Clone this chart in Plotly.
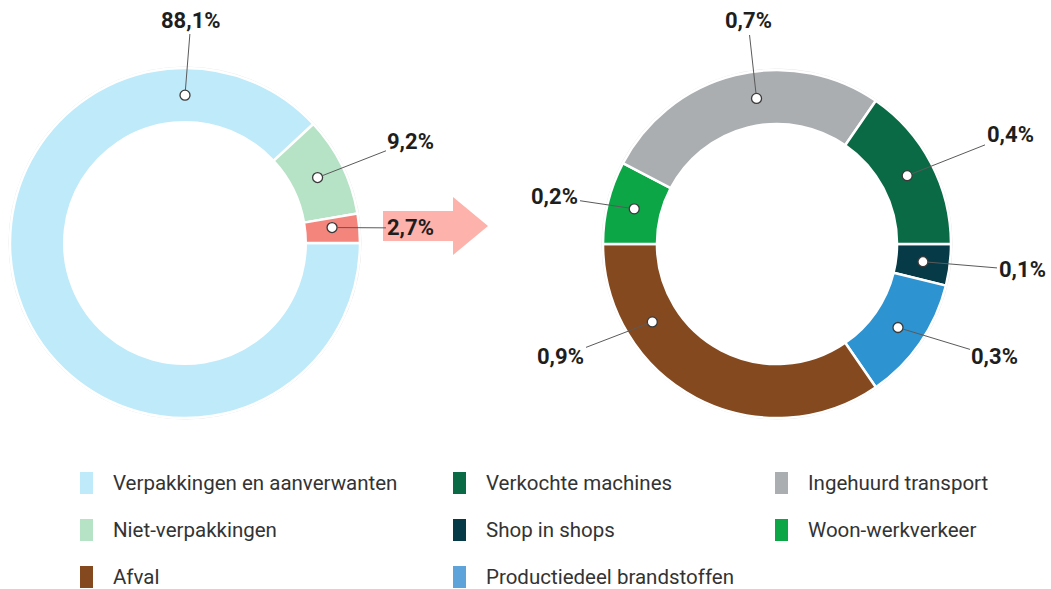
import numpy as np
import plotly.graph_objects as go

"""Data (slices listed counterclockwise from 3 o'clock)"""
left_labels = ["Overig", "Niet-verpakkingen", "Verpakkingen en aanverwanten"]
left_values = [2.7, 9.2, 88.1]
left_colors = ["#F4857C", "#B6E2C6", "#BEEAFA"]

right_labels = [
    "Verkochte machines",
    "Ingehuurd transport",
    "Woon-werkverkeer",
    "Afval",
    "Productiedeel brandstoffen",
    "Shop in shops",
]
right_values = [0.4, 0.7, 0.2, 0.9, 0.3, 0.1]
right_colors = ["#0B6A46", "#ABAEB1", "#0CA646", "#84491F", "#2D93D1", "#063A47"]

# legend, filled column by column (3 columns)
legend_cols = [
    ["Verpakkingen en aanverwanten", "Niet-verpakkingen", "Afval"],
    ["Verkochte machines", "Shop in shops", "Productiedeel brandstoffen"],
    ["Ingehuurd transport", "Woon-werkverkeer"],
]
legend_colors = {
    "Verpakkingen en aanverwanten": "#BEEAFA",
    "Niet-verpakkingen": "#B6E2C6",
    "Afval": "#84491F",
    "Verkochte machines": "#0B6A46",
    "Shop in shops": "#063A47",
    "Productiedeel brandstoffen": "#5EA4DA",
    "Ingehuurd transport": "#ABAEB1",
    "Woon-werkverkeer": "#0CA646",
}

"""Layout (pixels)"""
W, H = 1051, 589
HOLE = 0.69
pies = [
    dict(labels=left_labels, values=left_values, colors=left_colors,
         center=(185, 243), r=175,
         label_pos=[(411, 228), (411, 141), (191, 20)],
         angle_override={0: 6, 2: 90}),
    dict(labels=right_labels, values=right_values, colors=right_colors,
         center=(777, 244), r=174,
         label_pos=[(1010, 135), (748, 21), (555, 197), (561, 357), (995, 357), (1022, 270)],
         angle_override={1: 98, 3: 212}),
]
legend_x = [80, 453, 775]
legend_y = [483, 530, 577]

FONT = "Roboto"
TEXT = "#1E1E1E"


def fmt(v):
    return f"{v:.1f}".replace(".", ",") + "%"


fig = go.Figure()

# invisible pixel-space axes for shapes / annotations
fig.add_trace(go.Scatter(x=[None], y=[None], showlegend=False, hoverinfo="skip"))

shapes = []
annotations = []

for p in pies:
    cx, cy = p["center"]
    r = p["r"]
    # plotly goes clockwise from the rotation angle, so feed the slices reversed
    fig.add_trace(
        go.Pie(
            labels=p["labels"][::-1],
            values=p["values"][::-1],
            hole=HOLE,
            sort=False,
            direction="clockwise",
            rotation=90,
            textinfo="none",
            hoverinfo="label+value",
            marker=dict(colors=p["colors"][::-1], line=dict(color="white", width=2.5)),
            domain=dict(x=[(cx - r) / W, (cx + r) / W], y=[1 - (cy + r) / H, 1 - (cy - r) / H]),
            showlegend=False,
        )
    )
    # faint outer rim
    shapes.append(dict(type="circle", xref="x", yref="y", layer="below",
                       x0=cx - r - 1, x1=cx + r + 1, y0=cy - r - 1, y1=cy + r + 1,
                       line=dict(color="#E4E4E4", width=1)))

    vals = np.array(p["values"], dtype=float)
    share = vals / vals.sum() * 360
    start = np.concatenate([[0], np.cumsum(share)[:-1]])
    mids = start + share / 2
    r_mid = r * (1 + HOLE) / 2
    for i, v in enumerate(p["values"]):
        ang = np.radians(p["angle_override"].get(i, mids[i]))
        mx = cx + r_mid * np.cos(ang)
        my = cy - r_mid * np.sin(ang)
        tx, ty = p["label_pos"][i]
        annotations.append(dict(
            x=mx, y=my, xref="x", yref="y", ax=tx - mx, ay=ty - my,
            text=f"<b>{fmt(v)}</b>", showarrow=True, arrowhead=0,
            arrowwidth=1, arrowcolor="#5A5A5A", standoff=5,
            font=dict(family=FONT, size=22, color=TEXT),
        ))
        shapes.append(dict(type="circle", xref="x", yref="y", layer="above",
                           x0=mx - 5, x1=mx + 5, y0=my - 5, y1=my + 5,
                           fillcolor="white", line=dict(color="#3A3A3A", width=1.3)))

# arrow pointing from left donut to right donut
shapes.append(dict(
    type="path", xref="x", yref="y", layer="below",
    path="M383,211 L453,211 L453,197 L488,226 L453,255 L453,241 L383,241 Z",
    fillcolor="#FDB2AB", line=dict(width=0),
))

# legend
for col, names in enumerate(legend_cols):
    for row, name in enumerate(names):
        x0 = legend_x[col]
        y = legend_y[row]
        shapes.append(dict(type="rect", xref="x", yref="y",
                           x0=x0, x1=x0 + 13, y0=y - 11, y1=y + 11,
                           fillcolor=legend_colors[name], line=dict(width=0)))
        annotations.append(dict(x=x0 + 31, y=y, xref="x", yref="y", text=name,
                                showarrow=False, xanchor="left", yanchor="middle",
                                font=dict(family=FONT, size=20.5, color="#333333")))

fig.update_layout(
    width=W,
    height=H,
    margin=dict(l=0, r=0, t=0, b=0),
    paper_bgcolor="white",
    plot_bgcolor="white",
    xaxis=dict(range=[0, W], visible=False, fixedrange=True),
    yaxis=dict(range=[H, 0], visible=False, fixedrange=True),
    shapes=shapes,
    annotations=annotations,
    showlegend=False,
)

fig.write_html(
    "out.html",
    config={"displayModeBar": False},
    post_script="document.body.style.margin = '0';",
)
